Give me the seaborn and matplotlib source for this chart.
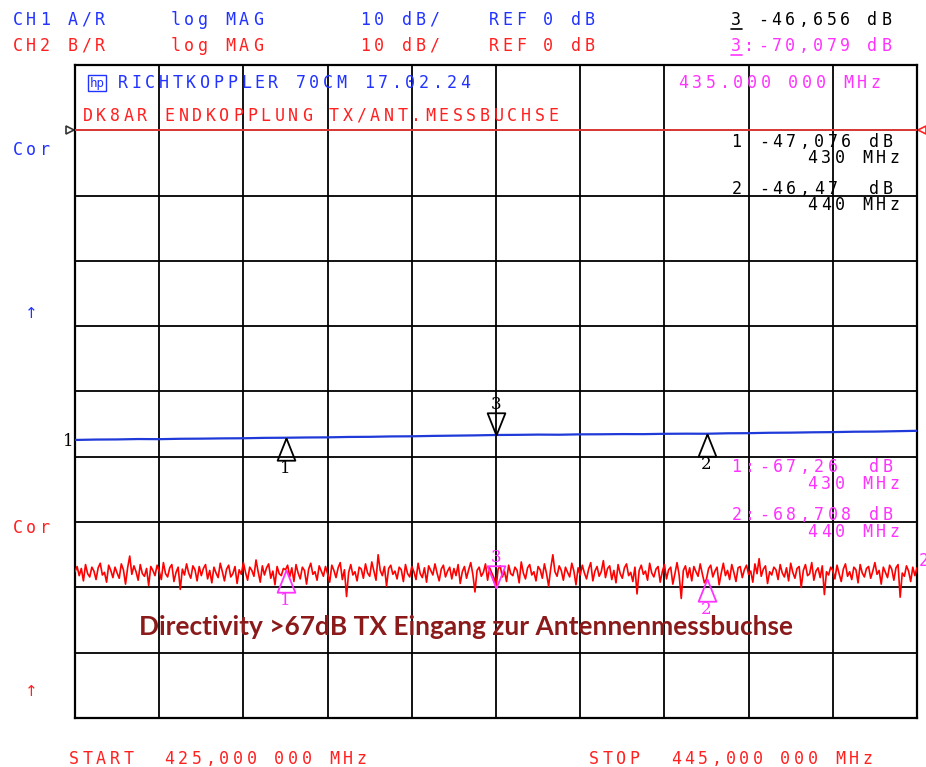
import numpy as np
import pandas as pd
import matplotlib
matplotlib.use("Agg")
import matplotlib.pyplot as plt
from matplotlib.path import Path
import seaborn as sns

sns.set_style("white")
plt.rcParams['font.family'] = ['DejaVu Sans']

# sweep 425 .. 445 MHz
f_start, f_stop = 425.0, 445.0

# CH1 A/R (blue), one value every 0.5 MHz, dB
ch1_db = [-47.42, -47.36, -47.34, -47.28, -47.30, -47.24, -47.22, -47.18, -47.16, -47.10,
          -47.08, -47.04, -47.02, -46.96, -46.94, -46.88, -46.86, -46.80, -46.76, -46.72,
          -46.66, -46.64, -46.60, -46.62, -46.56, -46.55, -46.52, -46.53, -46.48, -46.46,
          -46.47, -46.40, -46.38, -46.32, -46.30, -46.25, -46.22, -46.16, -46.14, -46.08,
          -46.02]

# CH2 B/R (red), noisy trace, 20 points per MHz, dB
ch2_db = [
    -67.6, -66.8, -68.2, -67.1, -69.0, -66.5, -67.9, -68.4, -66.9, -67.5, -68.8, -67.0, -66.3, -68.1, -67.7, -69.2, -66.6, -67.4, -68.5, -66.9,
    -67.8, -68.6, -66.4, -67.3, -69.5, -67.0, -65.2, -68.0, -66.7, -67.6, -68.9, -66.5, -67.9, -68.3, -67.1, -69.7, -66.8, -67.4, -68.2, -66.6,
    -67.5, -68.8, -66.2, -67.9, -68.4, -67.0, -66.5, -69.1, -67.7, -66.9, -70.3, -67.2, -68.1, -66.4, -67.8, -68.6, -66.7, -67.3, -69.0, -66.8,
    -68.2, -67.1, -66.5, -68.7, -67.4, -69.3, -66.9, -67.8, -68.5, -66.3, -67.6, -69.0, -67.2, -66.6, -68.4, -67.9, -66.8, -69.4, -67.3, -68.0,
    -66.2, -67.7, -68.9, -66.9, -67.4, -68.3, -65.8, -67.6, -69.2, -66.7, -68.1, -67.0, -66.4, -68.6, -67.5, -69.6, -66.8, -67.9, -68.2, -67.1,
    -67.3, -66.6, -68.4, -67.0, -69.1, -66.5, -67.8, -68.7, -66.9, -67.4, -69.5, -67.2, -66.3, -68.0, -67.6, -68.9, -66.7, -67.5, -68.3, -66.8,
    -67.9, -69.2, -66.6, -67.4, -68.5, -67.0, -66.2, -68.8, -67.3, -71.4, -67.7, -66.5, -68.1, -67.6, -69.0, -66.9, -67.2, -68.6, -66.4, -67.8,
    -68.3, -66.1, -67.5, -68.9, -65.0, -67.4, -68.2, -66.8, -69.8, -67.1, -66.6, -68.0, -67.5, -68.7, -66.9, -67.3, -69.1, -66.5, -67.9, -68.4,
    -66.8, -67.6, -68.8, -66.3, -67.9, -68.5, -67.0, -69.2, -66.7, -67.4, -68.1, -66.4, -67.8, -69.0, -67.2, -66.6, -68.4, -67.5, -66.9, -68.7,
    -67.1, -68.2, -66.5, -69.4, -67.6, -66.8, -68.6, -67.3, -66.2, -68.0, -70.7, -67.4, -66.9, -68.3, -67.7, -66.4, -68.9, -67.0, -67.8, -68.5,
    -70.1, -67.2, -66.7, -68.4, -67.5, -69.1, -66.6, -67.9, -68.2, -66.9, -67.4, -69.3, -66.1, -67.8, -68.7, -67.0, -66.5, -68.1, -67.6, -69.0,
    -66.8, -67.3, -68.6, -66.4, -67.9, -69.8, -67.1, -65.0, -67.6, -68.3, -66.7, -67.4, -68.9, -66.9, -67.7, -68.4, -66.3, -67.5, -69.6, -67.0,
    -68.1, -66.6, -67.8, -68.7, -67.2, -66.2, -69.0, -67.5, -66.8, -68.3, -67.6, -65.9, -68.5, -67.1, -66.7, -68.8, -67.4, -69.3, -66.5, -67.9,
    -68.6, -67.0, -66.4, -68.2, -67.7, -69.1, -66.9, -71.0, -67.4, -66.6, -68.0, -67.5, -68.9, -66.3, -67.8, -68.4, -67.2, -66.8, -69.2, -67.6,
    -66.5, -68.7, -67.3, -66.9, -69.5, -67.9, -66.2, -68.1, -71.7, -67.4, -66.7, -68.5, -67.0, -69.0, -66.8, -67.6, -68.3, -66.4, -67.9, -69.3,
    -68.7, -67.1, -66.6, -68.4, -67.5, -66.9, -69.6, -67.8, -66.3, -68.2, -67.4, -68.8, -66.5, -67.7, -69.1, -67.0, -66.8, -68.5, -67.3, -66.6,
    -68.0, -67.5, -69.2, -66.4, -67.9, -65.6, -68.3, -67.2, -66.7, -69.4, -67.6, -68.1, -66.9, -67.3, -68.8, -66.5, -67.8, -68.4, -67.0, -69.0,
    -66.3, -67.7, -68.6, -67.1, -66.8, -70.0, -67.4, -66.5, -68.2, -67.9, -66.2, -68.9, -67.5, -67.0, -68.5, -66.7, -71.1, -67.6, -68.1, -66.9,
    -67.4, -68.7, -66.6, -67.9, -69.1, -67.2, -66.4, -68.3, -67.6, -68.8, -66.9, -67.3, -69.3, -66.5, -67.8, -68.4, -67.1, -66.8, -68.6, -67.5,
    -66.2, -68.0, -67.4, -69.5, -66.9, -67.7, -68.5, -66.6, -67.2, -68.9, -67.0, -66.5, -71.5, -67.8, -68.3, -66.7, -67.5, -69.1, -66.9, -68.2,
    -67.0]

marker_freqs = [430.0, 440.0, 435.0]      # markers 1, 2, 3
marker_names = ['1', '2', '3']

BLUE = '#2233ff'
TRACE_BLUE = '#1f3ad8'
RED = '#ff2020'
MAG = '#ff33ff'

df1 = pd.DataFrame({'f': np.linspace(f_start, f_stop, len(ch1_db)), 'db': ch1_db})
df2 = pd.DataFrame({'f': np.linspace(f_start, f_stop, len(ch2_db)), 'db': ch2_db})

W, H = 926, 767
fig = plt.figure(figsize=(W / 100, H / 100), dpi=100)
fig.patch.set_facecolor('white')
ax = fig.add_axes([75 / W, 1 - 718 / H, 842 / W, 653 / H])

sns.lineplot(data=df2, x='f', y='db', ax=ax, color='#ff0000', lw=1.2, zorder=3)
sns.lineplot(data=df1, x='f', y='db', ax=ax, color=TRACE_BLUE, lw=1.6, zorder=4)

ax.set_xlim(f_start, f_stop)
ax.set_ylim(-90, 10)
ax.set_xticks(np.arange(f_start, f_stop + 0.1, 2))
ax.set_yticks(np.arange(-90, 11, 10))
ax.tick_params(length=0, labelbottom=False, labelleft=False)
ax.grid(True, color='black', lw=1.3)
ax.set_xlabel('')
ax.set_ylabel('')
for s in ax.spines.values():
    s.set_color('black')
    s.set_linewidth(1.6)

# reference line 0 dB
ax.axhline(0, color='#ff4040', lw=1.2, zorder=5)
ax.plot(424.87, 0, marker='>', ms=6, mfc='white', mec='#333333', mew=1.2, clip_on=False)
ax.plot(445.13, 0, marker='<', ms=6, mfc='white', mec=RED, mew=1.2, clip_on=False)

# marker triangles, apex on the trace
up_tri = Path([(0, 0), (-0.4, -1), (0.4, -1), (0, 0)])
down_tri = Path([(0, 0), (-0.4, 1), (0.4, 1), (0, 0)])


def trace_at(df, f):
    return df.loc[(df['f'] - f).abs().idxmin(), 'db']


for df, col in [(df1, 'black'), (df2, MAG)]:
    for f, name in zip(marker_freqs, marker_names):
        y = trace_at(df, f)
        if name == '3':
            ax.plot(f, y, marker=down_tri, ms=32, mfc='none', mec=col, mew=1.3, zorder=6)
            ax.annotate(name, (f, y), xytext=(0, 22), textcoords='offset points',
                        ha='center', va='center', color=col, fontsize=12, family='DejaVu Serif')
        else:
            ax.plot(f, y, marker=up_tri, ms=32, mfc='none', mec=col, mew=1.3, zorder=6)
            ax.annotate(name, (f, y), xytext=(0, -22), textcoords='offset points',
                        ha='center', va='center', color=col, fontsize=12, family='DejaVu Serif')


# instrument-style text, one character per cell
def hp(x, y, s, color, pitch=13.7, size=12):
    for i, ch in enumerate(s):
        fig.text((x + 4.5 + i * pitch) / W, 1 - y / H, ch, color=color, fontsize=size,
                 family='DejaVu Sans Mono', ha='center', va='center')


hp(13, 20, 'CH1 A/R', BLUE)
hp(171, 20, 'log MAG', BLUE)
hp(361, 20, '10 dB/', BLUE)
hp(489, 20, 'REF 0 dB', BLUE)
hp(731, 20, '3 -46,656 dB', 'black')
hp(13, 46, 'CH2 B/R', RED)
hp(171, 46, 'log MAG', RED)
hp(361, 46, '10 dB/', RED)
hp(489, 46, 'REF 0 dB', RED)
hp(731, 46, '3:-70,079 dB', MAG)
fig.add_artist(plt.Line2D([731 / W, 742 / W], [1 - 29 / H, 1 - 29 / H], color='black', lw=1.2))
fig.add_artist(plt.Line2D([731 / W, 742 / W], [1 - 55 / H, 1 - 55 / H], color=MAG, lw=1.2))

fig.text(97 / W, 1 - 83 / H, 'hp', color=BLUE, fontsize=9, family='DejaVu Sans Mono',
         ha='center', va='center', bbox=dict(boxstyle='square,pad=0.1', fc='white', ec=BLUE, lw=1))
hp(118, 83, 'RICHTKOPPLER 70CM 17.02.24', BLUE)
hp(679, 83, '435.000 000 MHz', MAG)
hp(83, 116, 'DK8AR ENDKOPPLUNG TX/ANT.MESSBUCHSE', RED)

hp(732, 142, '1 -47,076 dB', 'black')
hp(808, 158, '430 MHz', 'black')
hp(732, 189, '2 -46,47  dB', 'black')
hp(808, 205, '440 MHz', 'black')

hp(732, 467, '1:-67,26  dB', MAG)
hp(808, 484, '430 MHz', MAG)
hp(732, 515, '2:-68,708 dB', MAG)
hp(808, 532, '440 MHz', MAG)

hp(13, 150, 'Cor', BLUE)
hp(13, 528, 'Cor', RED)
fig.text(31 / W, 1 - 314 / H, '↑', color=BLUE, fontsize=11, ha='center', va='center')
fig.text(31 / W, 1 - 692 / H, '↑', color=RED, fontsize=11, ha='center', va='center')
fig.text(68 / W, 1 - 441 / H, '1', color='black', fontsize=12, family='DejaVu Serif',
         ha='center', va='center')
fig.text(919 / W, 1 - 561 / H, '2', color=MAG, fontsize=12, family='DejaVu Sans Mono',
         ha='left', va='center')

hp(69, 759, 'START  425,000 000 MHz', RED)
hp(589, 759, 'STOP  445,000 000 MHz', RED)

cap = fig.text(465.5 / W, 1 - 627 / H, 'Directivity >67dB TX Eingang zur Antennenmessbuchse',
               color='#8b1a1a', fontsize=16, fontweight='bold', family='Lato',
               ha='center', va='center')
fig.canvas.draw()
w = cap.get_window_extent().width
cap.set_fontsize(16 * 657 / w)

fig.savefig('out.png', dpi=100, facecolor='white')
